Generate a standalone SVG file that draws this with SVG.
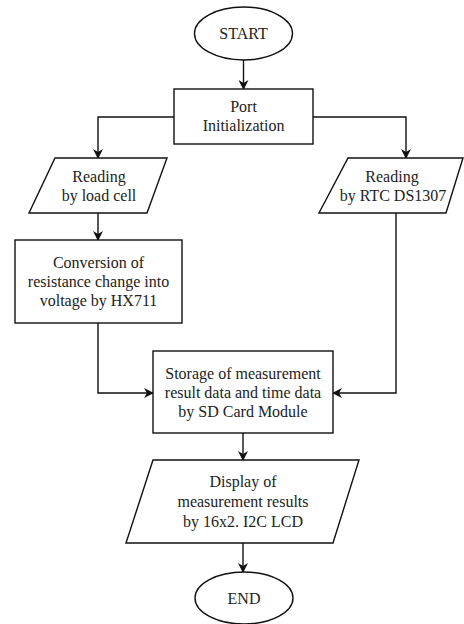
<svg xmlns="http://www.w3.org/2000/svg" width="464" height="624" viewBox="0 0 464 624">
<defs>
<style>
.s{fill:#fff;stroke:#111;stroke-width:1.4}
.c{fill:none;stroke:#111;stroke-width:1.4}
.t text{font-size:16px;fill:#222;text-anchor:middle}
</style>
<marker id="a" viewBox="0 0 10 10" refX="9" refY="5" markerWidth="10" markerHeight="10" markerUnits="userSpaceOnUse" orient="auto">
<path d="M0,0 L10,5 L0,10 L3,5 z" fill="#111"/>
</marker>
</defs>
<rect width="464" height="624" fill="#fff"/>
<g id="connectors">
<path class="c" d="M243.5,60 V89" marker-end="url(#a)"/>
<path class="c" d="M174,117 H98 V158" marker-end="url(#a)"/>
<path class="c" d="M313,117 H406 V158" marker-end="url(#a)"/>
<path class="c" d="M98,213 V240" marker-end="url(#a)"/>
<path class="c" d="M98,323 V393 H153" marker-end="url(#a)"/>
<path class="c" d="M396,213 V393 H333" marker-end="url(#a)"/>
<path class="c" d="M243,433 V460" marker-end="url(#a)"/>
<path class="c" d="M243,543 V572" marker-end="url(#a)"/>
</g>
<g class="t" font-family="Liberation Serif, DejaVu Serif, serif">
<g id="start">
<ellipse class="s" cx="243.5" cy="33.5" rx="49" ry="26.5"/>
<text x="243.5" y="39">START</text>
</g>
<g id="port">
<rect class="s" x="174" y="89" width="139" height="55"/>
<text x="243.5" y="112">Port</text>
<text x="243.5" y="131">Initialization</text>
</g>
<g id="read-load">
<polygon class="s" points="55,158 167,158 147,213 29,213"/>
<text x="99" y="182">Reading</text>
<text x="99" y="201">by load cell</text>
</g>
<g id="read-rtc">
<polygon class="s" points="348,158 463,158 446,213 319,213"/>
<text x="392" y="182">Reading</text>
<text x="393" y="201">by RTC DS1307</text>
</g>
<g id="conversion">
<rect class="s" x="15" y="240" width="167" height="83"/>
<text x="98.5" y="268">Conversion of</text>
<text x="98.5" y="287">resistance change into</text>
<text x="98.5" y="306">voltage by HX711</text>
</g>
<g id="storage">
<rect class="s" x="153" y="351" width="180" height="82"/>
<text x="243" y="378.5">Storage of measurement</text>
<text x="243" y="397.5">result data and time data</text>
<text x="243" y="416.5">by SD Card Module</text>
</g>
<g id="display">
<polygon class="s" points="153,460 359,460 333,543 126,543"/>
<text x="243" y="487">Display of</text>
<text x="243" y="507">measurement results</text>
<text x="243" y="527">by 16x2. I2C LCD</text>
</g>
<g id="end">
<ellipse class="s" cx="244" cy="598" rx="49" ry="26"/>
<text x="244" y="603.5">END</text>
</g>
</g>
</svg>
